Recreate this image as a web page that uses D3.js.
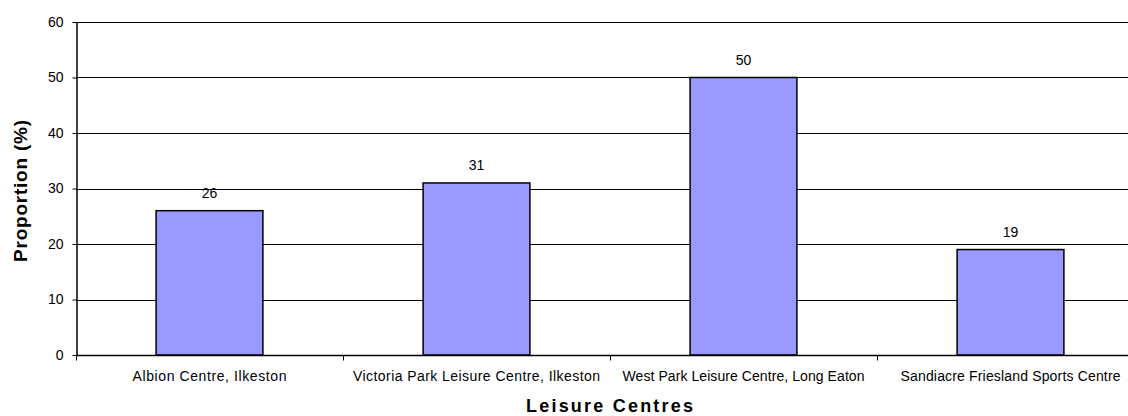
<!DOCTYPE html>
<html>
<head>
<meta charset="utf-8">
<script src="https://cdn.jsdelivr.net/npm/d3@7"></script>
<style>
  html, body { margin: 0; padding: 0; background: #fff; }
  svg { display: block; font-family: "Liberation Sans", Arial, sans-serif; }
</style>
</head>
<body>
<svg id="chart" width="1128" height="416"></svg>
<script>
const categories = [
  "Albion Centre, Ilkeston",
  "Victoria Park Leisure Centre, Ilkeston",
  "West Park Leisure Centre, Long Eaton",
  "Sandiacre Friesland Sports Centre"
];
const values = [26, 31, 50, 19];
const yTicks = [0, 10, 20, 30, 40, 50, 60];
const xTitle = "Leisure Centres";
const yTitle = "Proportion (%)";

(function () {
const svg = d3.select("#chart");
const mLeft = 76, mRight = 1144, mTop = 22, mBottom = 355;

const x = d3.scaleBand().domain(categories).range([mLeft, mRight]).paddingInner(0.6).paddingOuter(0.3);
const y = d3.scaleLinear().domain([0, 60]).range([mBottom, mTop]);

const plot = svg.append("g");

// gridlines
plot.selectAll("line.grid").data(yTicks.filter(d => d > 0)).enter().append("line")
  .attr("class", "grid")
  .attr("x1", mLeft).attr("x2", 1128)
  .attr("y1", d => Math.round(y(d)) + 0.5).attr("y2", d => Math.round(y(d)) + 0.5)
  .attr("stroke", "#000").attr("stroke-width", 1);

// bars
plot.selectAll("rect.bar").data(values).enter().append("rect")
  .attr("class", "bar")
  .attr("x", (d, i) => x(categories[i]))
  .attr("width", x.bandwidth())
  .attr("y", d => y(d))
  .attr("height", d => y(0) - y(d))
  .attr("fill", "#9999FF")
  .attr("stroke", "#000")
  .attr("stroke-width", 1.5);

// value labels
plot.selectAll("text.val").data(values).enter().append("text")
  .attr("class", "val")
  .attr("x", (d, i) => x(categories[i]) + x.bandwidth() / 2)
  .attr("y", d => y(d) - 13)
  .attr("text-anchor", "middle")
  .attr("font-size", 14)
  .attr("fill", "#000")
  .text(d => d);

// y axis
const yAxis = d3.axisLeft(y).tickValues(yTicks).tickSize(4).tickPadding(9).tickSizeOuter(0);
const gy = svg.append("g").attr("transform", `translate(${mLeft + 0.5},0)`).call(yAxis);
gy.select(".domain").attr("stroke", "#000").attr("stroke-width", 1.5);
gy.selectAll(".tick line").attr("stroke", "#000");
gy.selectAll(".tick text").attr("font-size", 14).attr("font-family", "Liberation Sans, Arial, sans-serif").attr("fill", "#000");

// x axis
const gx = svg.append("g").attr("transform", `translate(0,${mBottom + 0.5})`);
gx.append("line").attr("x1", mLeft).attr("x2", 1128).attr("y1", 0).attr("y2", 0)
  .attr("stroke", "#000").attr("stroke-width", 1.5);
const boundaries = categories.map(c => x(c) - x.step() * x.paddingOuter());
gx.selectAll("line.xt").data(boundaries).enter().append("line")
  .attr("class", "xt")
  .attr("x1", d => Math.round(d) + 0.5).attr("x2", d => Math.round(d) + 0.5)
  .attr("y1", 0).attr("y2", 5)
  .attr("stroke", "#000");

const labelLen = [154, 247, 242, 220];
gx.selectAll("text.cat").data(categories).enter().append("text")
  .attr("class", "cat")
  .attr("x", d => x(d) + x.bandwidth() / 2)
  .attr("y", 25)
  .attr("text-anchor", "middle")
  .attr("font-size", 14)
  .attr("fill", "#000")
  .attr("textLength", (d, i) => labelLen[i])
  .attr("lengthAdjust", "spacing")
  .text(d => d);

// axis titles
svg.append("text")
  .attr("x", 609.5).attr("y", 412)
  .attr("text-anchor", "middle")
  .attr("font-size", 18).attr("font-weight", "bold")
  .attr("textLength", 167).attr("lengthAdjust", "spacing")
  .text(xTitle);

svg.append("text")
  .attr("transform", "translate(27,191) rotate(-90)")
  .attr("text-anchor", "middle")
  .attr("font-size", 19).attr("font-weight", "bold")
  .attr("textLength", 142).attr("lengthAdjust", "spacing")
  .text(yTitle);
})();
</script>
</body>
</html>
